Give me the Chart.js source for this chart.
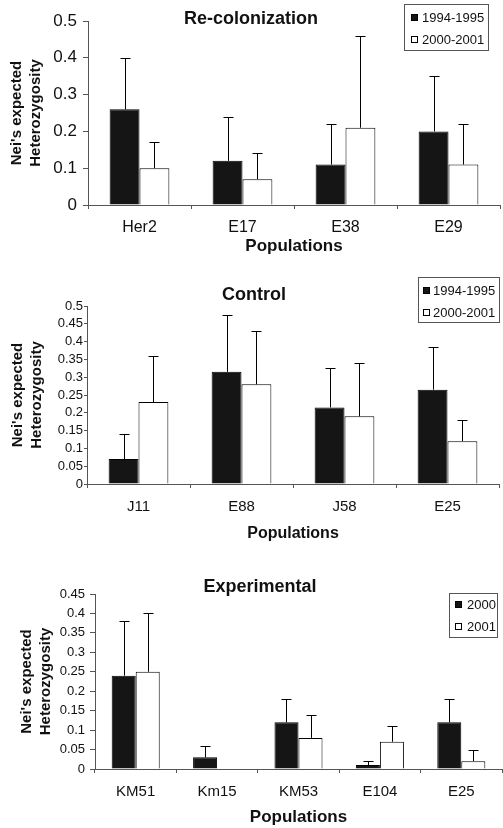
<!DOCTYPE html>
<html>
<head>
<meta charset="utf-8">
<script src="https://cdn.jsdelivr.net/npm/chart.js@4.4.1/dist/chart.umd.min.js"></script>
<style>
  body { margin: 0; background: #fff; }
  #wrap { position: relative; width: 503px; height: 828px; }
  canvas { position: absolute; left: 0; }
</style>
</head>
<body>
<div id="wrap">
  <canvas id="recol" width="503" height="260" style="top:0;width:503px;height:260px"></canvas>
  <canvas id="control" width="503" height="285" style="top:260px;width:503px;height:285px"></canvas>
  <canvas id="experimental" width="503" height="283" style="top:545px;width:503px;height:283px"></canvas>
</div>
<script>
const FONT = "'Liberation Sans', Arial, sans-serif";

// legend labels
const periodLabels = ['1994-1995', '2000-2001'];
const yearLabels = ['2000', '2001'];

// Re-colonization
const recolPops = ['Her2', 'E17', 'E38', 'E29'];
const recolEarly = [0.26, 0.12, 0.11, 0.20];
const recolEarlyErr = [0.14, 0.12, 0.11, 0.15];
const recolLate = [0.10, 0.07, 0.21, 0.11];
const recolLateErr = [0.07, 0.07, 0.25, 0.11];
const recolTicks = ['0', '0.1', '0.2', '0.3', '0.4', '0.5'];

// Control
const controlPops = ['J11', 'E88', 'J58', 'E25'];
const controlEarly = [0.07, 0.315, 0.215, 0.265];
const controlEarlyErr = [0.07, 0.16, 0.11, 0.12];
const controlLate = [0.23, 0.28, 0.19, 0.12];
const controlLateErr = [0.13, 0.15, 0.15, 0.06];
const controlTicks = ['0', '0.05', '0.1', '0.15', '0.2', '0.25', '0.3', '0.35', '0.4', '0.45', '0.5'];

// Experimental
const expPops = ['KM51', 'Km15', 'KM53', 'E104', 'E25'];
const exp2000 = [0.24, 0.03, 0.12, 0.01, 0.12];
const exp2000Err = [0.14, 0.03, 0.06, 0.01, 0.06];
const exp2001 = [0.25, 0, 0.08, 0.07, 0.02];
const exp2001Err = [0.15, 0, 0.06, 0.04, 0.03];
const expTicks = ['0', '0.05', '0.1', '0.15', '0.2', '0.25', '0.3', '0.35', '0.4', '0.45'];

// upper error bars with a small cap
const errorBars = {
  id: 'errorBars',
  afterDatasetsDraw(chart, args, opts) {
    const ctx = chart.ctx;
    const yScale = chart.scales.y;
    ctx.save();
    ctx.strokeStyle = '#000';
    ctx.lineWidth = 1;
    chart.data.datasets.forEach((ds, i) => {
      chart.getDatasetMeta(i).data.forEach((bar, j) => {
        const err = ds.errors[j];
        if (!err) return;
        const x = Math.round(bar.x) + 0.5;
        const top = Math.round(yScale.getPixelForValue(ds.data[j] + err)) + 0.5;
        ctx.beginPath();
        ctx.moveTo(x, bar.y);
        ctx.lineTo(x, top);
        ctx.moveTo(x - opts.cap / 2, top);
        ctx.lineTo(x + opts.cap / 2, top);
        ctx.stroke();
      });
    });
    ctx.restore();
  }
};

// title placed freely over the panel
const panelTitle = {
  id: 'panelTitle',
  afterDraw(chart, args, opts) {
    const ctx = chart.ctx;
    ctx.save();
    ctx.font = `bold ${opts.size}px ${FONT}`;
    ctx.fillStyle = '#111';
    ctx.textAlign = 'center';
    ctx.textBaseline = 'middle';
    ctx.fillText(opts.text, opts.x, opts.y);
    ctx.restore();
  }
};

// boxed legend in the top right corner
const boxLegend = {
  id: 'boxLegend',
  afterDraw(chart, args, opts) {
    const ctx = chart.ctx;
    ctx.save();
    ctx.fillStyle = '#fff';
    ctx.fillRect(opts.left, opts.top, opts.width, opts.height);
    ctx.strokeStyle = '#555';
    ctx.lineWidth = 1;
    ctx.strokeRect(opts.left + 0.5, opts.top + 0.5, opts.width, opts.height);
    ctx.font = `13px ${FONT}`;
    ctx.textBaseline = 'middle';
    chart.data.datasets.forEach((ds, i) => {
      const cy = Math.round(opts.top + opts.rows[i]);
      const sx = opts.left + opts.swatchX;
      ctx.fillStyle = ds.backgroundColor;
      ctx.fillRect(sx, cy - 3, 7, 7);
      ctx.strokeStyle = '#000';
      ctx.strokeRect(sx + 0.5, cy - 2.5, 6, 6);
      ctx.fillStyle = '#111';
      ctx.fillText(ds.label, opts.left + opts.textX, cy + 1);
    });
    ctx.restore();
  }
};

Chart.register(errorBars, panelTitle, boxLegend);
Chart.defaults.font.family = FONT;
Chart.defaults.color = '#111';

function panel(id, o) {
  return new Chart(document.getElementById(id), {
    type: 'bar',
    data: {
      labels: o.pops,
      datasets: [
        { label: o.legend[0], data: o.early, errors: o.earlyErr,
          backgroundColor: '#151515', borderColor: '#000', borderWidth: 1 },
        { label: o.legend[1], data: o.late, errors: o.lateErr,
          backgroundColor: '#fff', borderColor: '#000', borderWidth: 1 },
      ],
    },
    options: {
      responsive: false,
      animation: false,
      events: [],
      layout: { padding: { top: o.top, right: o.right, left: 0, bottom: 0 } },
      datasets: { bar: { categoryPercentage: o.catPct, barPercentage: 1 } },
      plugins: {
        legend: { display: false },
        tooltip: { enabled: false },
        panelTitle: o.title,
        boxLegend: o.legendBox,
        errorBars: { cap: 10 },
      },
      scales: {
        x: {
          afterFit: (s) => { s.height = o.xHeight; },
          border: { color: '#555', width: 1 },
          grid: { offset: true, drawOnChartArea: false, drawTicks: true, tickLength: 4, color: '#555' },
          ticks: { font: { size: o.xFont }, padding: o.xPad, color: '#111', maxRotation: 0, autoSkip: false },
          title: {
            display: true, text: 'Populations',
            font: { size: o.popFont, weight: 'bold' },
            padding: { top: 0, bottom: o.popPad },
          },
        },
        y: {
          min: 0, max: o.yMax,
          afterFit: (s) => { s.width = o.left; },
          afterBuildTicks: (s) => { s.ticks = o.ticks.map((t, i) => ({ value: i * o.step })); },
          border: { color: '#555', width: 1 },
          grid: { drawOnChartArea: false, drawTicks: true, tickLength: o.yTick, color: '#555' },
          ticks: {
            font: { size: o.yFont }, padding: o.yPad, color: '#111', autoSkip: false,
            callback: (v, i) => o.ticks[i],
          },
          title: {
            display: true, text: ["Nei's expected", 'Heterozygosity'],
            font: { size: 15, weight: 'bold', lineHeight: 1.25 },
            padding: { top: o.yTitlePad, bottom: 0 },
          },
        },
      },
    },
  });
}

panel('recol', {
  pops: recolPops, early: recolEarly, earlyErr: recolEarlyErr, late: recolLate, lateErr: recolLateErr,
  legend: periodLabels, ticks: recolTicks, yMax: 0.5, step: 0.1,
  top: 21, right: 3, left: 88, xHeight: 55, catPct: 0.58,
  xFont: 16, xPad: 9.4, popFont: 17, popPad: 3.8,
  yFont: 17, yTick: 5, yPad: 6, yTitlePad: 7.6,
  title: { text: 'Re-colonization', x: 251, y: 19, size: 18 },
  legendBox: { left: 404, top: 4, width: 84, height: 46, rows: [13, 35], swatchX: 7, textX: 18 },
});

panel('control', {
  pops: controlPops, early: controlEarly, earlyErr: controlEarlyErr, late: controlLate, lateErr: controlLateErr,
  legend: periodLabels, ticks: controlTicks, yMax: 0.5, step: 0.05,
  top: 46, right: 4, left: 87, xHeight: 61, catPct: 0.58,
  xFont: 15, xPad: 9.7, popFont: 16, popPad: 1.4,
  yFont: 13, yTick: 3, yPad: 1, yTitlePad: 8.6,
  title: { text: 'Control', x: 254, y: 35, size: 18 },
  legendBox: { left: 418, top: 17, width: 81, height: 45, rows: [13, 35], swatchX: 5, textX: 15 },
});

panel('experimental', {
  pops: expPops, early: exp2000, earlyErr: exp2000Err, late: exp2001, lateErr: exp2001Err,
  legend: yearLabels, ticks: expTicks, yMax: 0.45, step: 0.05,
  top: 49, right: 1, left: 95, xHeight: 59, catPct: 0.59,
  xFont: 15, xPad: 9.7, popFont: 17, popPad: 0,
  yFont: 13, yTick: 5, yPad: 5, yTitlePad: 17.6,
  title: { text: 'Experimental', x: 260, y: 42, size: 18 },
  legendBox: { left: 449, top: 48, width: 48, height: 44, rows: [11, 33], swatchX: 6, textX: 18 },
});
</script>
</body>
</html>
